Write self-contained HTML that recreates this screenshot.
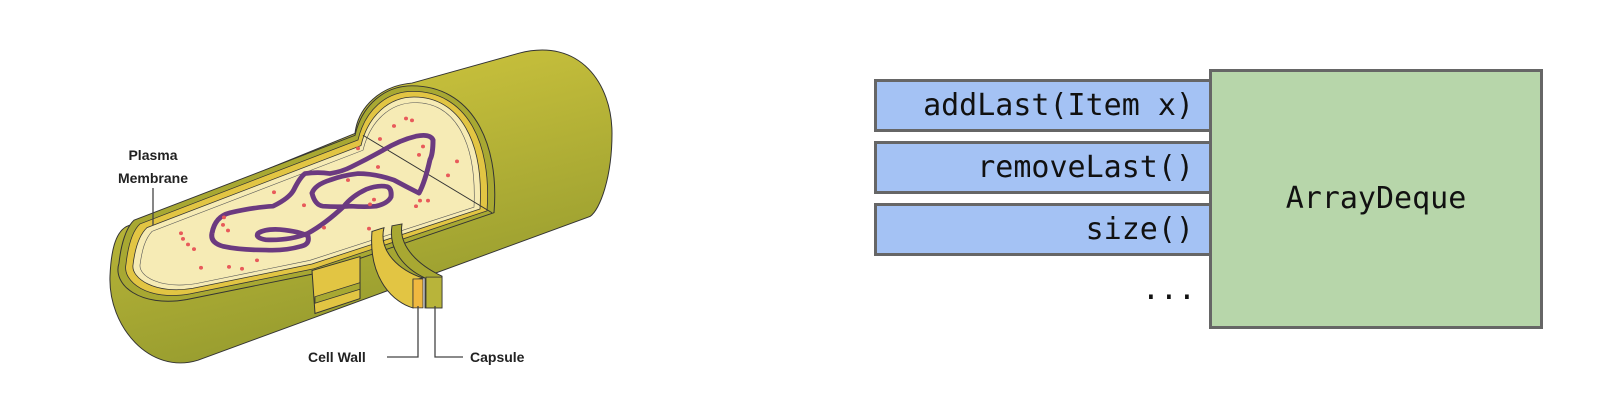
<!DOCTYPE html>
<html><head><meta charset="utf-8"><style>
html,body{margin:0;padding:0;background:#fff;}
body{width:1608px;height:404px;position:relative;overflow:hidden;font-family:"Liberation Sans",sans-serif;}
.b{position:absolute;box-sizing:border-box;border:3px solid #666;}
.m{background:#a4c2f4;left:874px;width:340px;height:53px;font-family:"DejaVu Sans Mono",monospace;font-size:30px;text-align:right;padding-right:17px;line-height:47px;color:#111;}
</style></head><body>
<svg width="1608" height="404" style="position:absolute;left:0;top:0">
<defs>
<linearGradient id="g" x1="0" y1="0" x2="0.4" y2="1"><stop offset="0" stop-color="#d8cc40"/><stop offset="1" stop-color="#949a2e"/></linearGradient>
</defs>
<g transform="scale(1,0.933)">
<path d="M126 243 L355 143 C358 115 380 92 412 89 L519 57 C580 40 612 90 612 143 C612 190 600 225 590 232 L198 386 C150 402 108 350 110 296 C111 270 115 250 126 243 Z" fill="url(#g)" stroke="#333" stroke-width="1"/>
<path d="M134 236 L355 145 C362 112 385 92 412 92 C470 92 500 150 494 228 L316 293 L187 321 C140 330 112 305 119 282 C121 262 126 244 134 236 Z" fill="#a8a832" stroke="#333" stroke-width="1"/>
<path d="M140 240 L358 150 C365 118 386 98 413 98 C465 98 492 150 487 226 L314 288 L190 315 C148 323 122 302 126 283 C128 264 132 248 140 240 Z" fill="#e2c543" stroke="#333" stroke-width="0.8"/>
<path d="M147 244 L361 156 C368 124 389 104 414 104 C460 104 484 152 480 224 L312 283 L193 309 C155 316 131 298 133 284 C135 266 139 252 147 244 Z" fill="#f6ebb5" stroke="#333" stroke-width="0.8"/>
<path d="M152 248 L363 161 C370 130 390 110 415 110 C456 110 477 154 474 222 L310 279 L196 304 C160 310 139 296 140 284 C142 268 145 256 152 248 Z" fill="#f6ebb5" stroke="#555" stroke-width="0.6"/>
<line x1="363" y1="145" x2="492" y2="228" stroke="#333" stroke-width="1"/>
<path d="M312 290 L360 275 L360 320 L315 336 Z" fill="#e2c543" stroke="#333" stroke-width="1"/>
<path d="M315 318 L360 303 L360 310 L315 325 Z" fill="#a8a832" stroke="#333" stroke-width="0.8"/>
<path d="M372 248 L384 244 C378 270 400 290 423 298 L413 300 L413 330 C395 325 368 300 372 248 Z" fill="#e2c543" stroke="#333" stroke-width="1"/>
<path d="M392 242 L402 240 C398 265 420 285 442 296 L442 330 L425 330 L425 298 C405 288 388 268 392 242 Z" fill="#a8a832" stroke="#333" stroke-width="1"/>
<rect x="413" y="299" width="10" height="31" fill="#f0b840" stroke="#333" stroke-width="0.8"/>
<rect x="426" y="297" width="16" height="33" fill="#b8b43a" stroke="#333" stroke-width="0.8"/>
<path d="M212 250 Q215 232 230 228 Q255 222 273 221 Q290 212 294 203 Q300 190 305 186 Q318 184 330 186 Q342 184 351 179 Q368 170 383 161 Q400 150 416 146 Q430 143 433 150 Q433 165 430 171 Q425 195 419 207 Q406 200 394 193 Q375 186 358 186 Q342 188 330 193 Q315 198 312 207 Q315 220 323 221 Q338 222 351 221 Q365 222 376 221 Q388 218 391 211 Q392 202 387 200 Q378 198 366 203 Q352 210 344 221 Q325 240 308 250 Q290 258 266 257 Q255 255 258 250 Q265 245 280 246 Q300 248 308 253 Q310 262 301 264 Q285 269 266 268 Q240 268 223 264 Q210 260 212 250" fill="none" stroke="#6b3a80" stroke-width="5" stroke-linejoin="round"/>
<g fill="#e85a5a">
<circle cx="394" cy="135" r="2"/><circle cx="406" cy="127" r="2"/><circle cx="412" cy="129" r="2"/><circle cx="380" cy="149" r="2"/><circle cx="358" cy="159" r="2"/><circle cx="423" cy="157" r="2"/><circle cx="419" cy="166" r="2"/><circle cx="457" cy="173" r="2"/><circle cx="448" cy="188" r="2"/><circle cx="378" cy="179" r="2"/><circle cx="348" cy="193" r="2"/><circle cx="374" cy="214" r="2"/><circle cx="370" cy="219" r="2"/><circle cx="420" cy="215" r="2"/><circle cx="428" cy="215" r="2"/><circle cx="416" cy="221" r="2"/><circle cx="274" cy="206" r="2"/><circle cx="304" cy="220" r="2"/><circle cx="224" cy="233" r="2"/><circle cx="223" cy="241" r="2"/><circle cx="228" cy="247" r="2"/><circle cx="181" cy="250" r="2"/><circle cx="183" cy="256" r="2"/><circle cx="188" cy="262" r="2"/><circle cx="194" cy="267" r="2"/><circle cx="324" cy="244" r="2"/><circle cx="369" cy="245" r="2"/><circle cx="201" cy="287" r="2"/><circle cx="229" cy="286" r="2"/><circle cx="242" cy="288" r="2"/><circle cx="257" cy="279" r="2"/>
</g>
</g>
<g font-family="Liberation Sans,sans-serif" font-weight="bold" font-size="14" fill="#222">
<text x="153" y="160" text-anchor="middle">Plasma</text>
<text x="153" y="183" text-anchor="middle">Membrane</text>
<text x="308" y="362">Cell Wall</text>
<text x="470" y="362">Capsule</text>
</g>
<g fill="none" stroke="#444" stroke-width="1.3">
<path d="M153 188 L153 225"/>
<path d="M387 357 L418 357 L418 306"/>
<path d="M435 306 L435 357 L463 357"/>
</g>
</svg>
<div class="b m" style="top:79px">addLast(Item x)</div>
<div class="b m" style="top:141px">removeLast()</div>
<div class="b m" style="top:203px">size()</div>
<div style="position:absolute;left:1100px;top:272px;width:96px;text-align:right;font-family:'DejaVu Sans Mono',monospace;font-size:30px;color:#111;">...</div>
<div class="b" style="left:1209px;top:69px;width:334px;height:260px;background:#b7d6aa;font-family:'DejaVu Sans Mono',monospace;font-size:30px;color:#111;line-height:254px;text-align:center;">ArrayDeque</div>
</body></html>
